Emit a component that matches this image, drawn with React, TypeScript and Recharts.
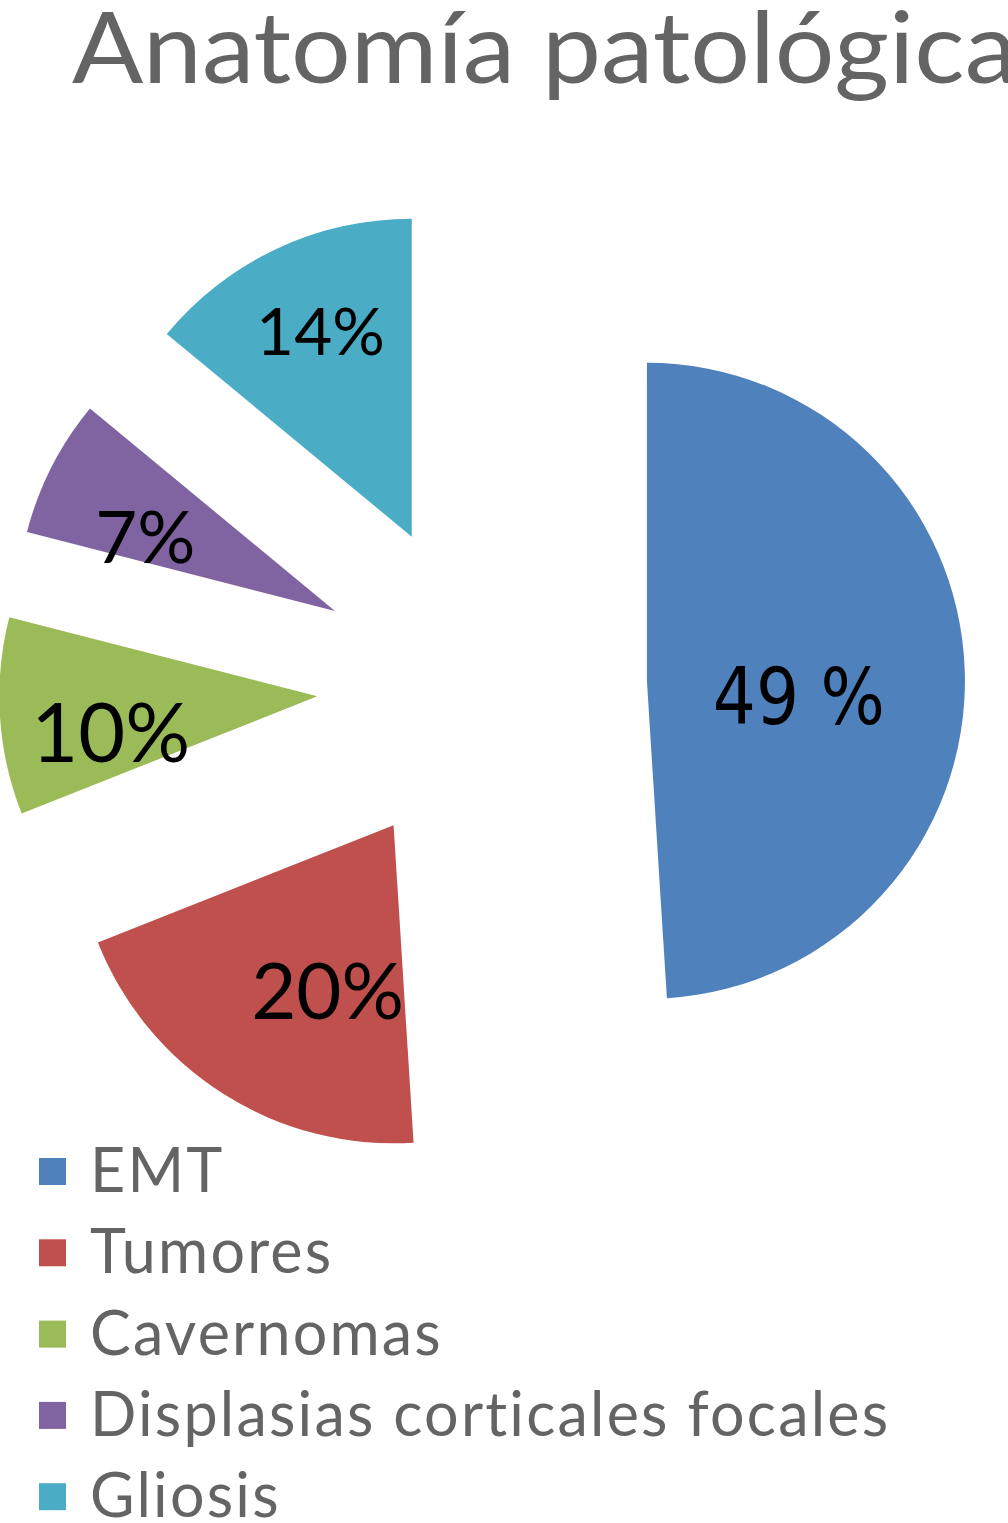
import React from 'react';
import { PieChart, Pie, Cell, Legend } from 'recharts';

// ---- data ----
const categories = ['EMT', 'Tumores', 'Cavernomas', 'Displasias corticales focales', 'Gliosis'];
const shares = [49, 20, 10, 7, 14];
const labelTexts = ['49 %', '20%', '10%', '7%', '14%'];
const colors = ['#4F81BD', '#C0504D', '#9BBB59', '#8064A2', '#4BACC6'];
const chartTitle = 'Anatomía patológica';

// ---- layout / style ----
const W = 1008;
const H = 1523;
const CENTER_X = 482;
const CENTER_Y = 686;
const RADIUS = 318;
const EXPLODE = 165;
const TEXT_GRAY = '#646464';
const LATO = 'Lato, "Noto Sans", sans-serif';
const RAD = Math.PI / 180;

// per-slice label placement (angle shift clockwise in degrees, radial fraction), font
const labelStyles = [
  { shift: 7.3, frac: 0.48, size: 78, family: '"DejaVu Sans", sans-serif', cap: 0.729, len: 172 },
  { shift: -10.7, frac: 0.561, size: 78, family: LATO, cap: 0.7165, len: 0 },
  { shift: -6.4, frac: 0.66, size: 81, family: LATO, cap: 0.7165, len: 0 },
  { shift: -5.7, frac: 0.64, size: 72.5, family: LATO, cap: 0.7165, len: 0 },
  { shift: 1.2, frac: 0.706, size: 65.6, family: LATO, cap: 0.7165, len: 0 },
];

const legendStyle = {
  top: 1130,
  firstBaseline: 62,
  rowStep: 81.3,
  squareX: 39,
  squareSize: 27,
  textX: 90,
  fontSize: 61,
  letterSpacing: 2.2,
};

const data = categories.map((name, i) => ({ name, value: shares[i], text: labelTexts[i] }));
const total = shares.reduce((a, b) => a + b, 0);

// mid angle measured clockwise from 12 o'clock
const midClockwise = (i: number) => {
  let before = 0;
  for (let k = 0; k < i; k++) before += shares[k];
  return ((before + shares[i] / 2) / total) * 360;
};

const makeLabel = (slice: number) => (props: any) => {
  const { cx, cy, midAngle, outerRadius, index } = props;
  if (index !== slice) return null;
  const st = labelStyles[slice];
  const ang = (midAngle - st.shift) * RAD;
  const r = outerRadius * st.frac;
  const x = cx + r * Math.cos(ang);
  const y = cy - r * Math.sin(ang) + (st.size * st.cap) / 2;
  const extra: any = st.len ? { textLength: st.len, lengthAdjust: 'spacingAndGlyphs' } : {};
  return (
    <text
      key={`lbl-${slice}`}
      x={x}
      y={y}
      textAnchor="middle"
      fill="#000000"
      fontFamily={st.family}
      fontSize={st.size}
      {...extra}
    >
      {data[slice].text}
    </text>
  );
};

const LegendContent = () => (
  <svg width={W} height={H - legendStyle.top} style={{ display: 'block' }}>
    {categories.map((name, i) => {
      const base = legendStyle.firstBaseline + i * legendStyle.rowStep;
      return (
        <g key={name}>
          <rect
            x={legendStyle.squareX}
            y={base - 34}
            width={legendStyle.squareSize}
            height={legendStyle.squareSize}
            fill={colors[i]}
          />
          <text
            x={legendStyle.textX}
            y={base}
            fill={TEXT_GRAY}
            fontFamily={LATO}
            fontSize={legendStyle.fontSize}
            style={{ letterSpacing: `${legendStyle.letterSpacing}px` }}
          >
            {name}
          </text>
        </g>
      );
    })}
  </svg>
);

export default function App() {
  return (
    <div style={{ position: 'absolute', left: 0, top: 0, width: W, height: H, background: '#ffffff', overflow: 'hidden' }}>
      <PieChart width={W} height={H} margin={{ top: 0, right: 0, bottom: 0, left: 0 }}>
        {categories.map((_, s) => {
          const th = midClockwise(s) * RAD;
          const pcx = CENTER_X + EXPLODE * Math.sin(th);
          const pcy = CENTER_Y - EXPLODE * Math.cos(th);
          return (
            <Pie
              key={`pie-${s}`}
              data={data}
              dataKey="value"
              nameKey="name"
              cx={pcx}
              cy={pcy}
              outerRadius={RADIUS}
              innerRadius={0}
              startAngle={90}
              endAngle={-270}
              stroke="none"
              isAnimationActive={false}
              labelLine={false}
              label={makeLabel(s)}
              legendType={s === 0 ? 'square' : 'none'}
            >
              {data.map((d, i) => (
                <Cell key={`c-${s}-${i}`} fill={i === s ? colors[i] : 'none'} stroke="none" />
              ))}
            </Pie>
          );
        })}
        <Legend
          layout="horizontal"
          verticalAlign="bottom"
          align="left"
          content={<LegendContent />}
          wrapperStyle={{ position: 'absolute', left: 0, top: legendStyle.top, width: W, height: H - legendStyle.top, bottom: 'auto' }}
        />
      </PieChart>
      <svg width={W} height={140} style={{ position: 'absolute', left: 0, top: 0, pointerEvents: 'none' }}>
        <text
          x={72}
          y={83}
          fill={TEXT_GRAY}
          fontFamily={LATO}
          fontSize={98}
          textLength={945}
          lengthAdjust="spacingAndGlyphs"
        >
          {chartTitle}
        </text>
      </svg>
    </div>
  );
}
